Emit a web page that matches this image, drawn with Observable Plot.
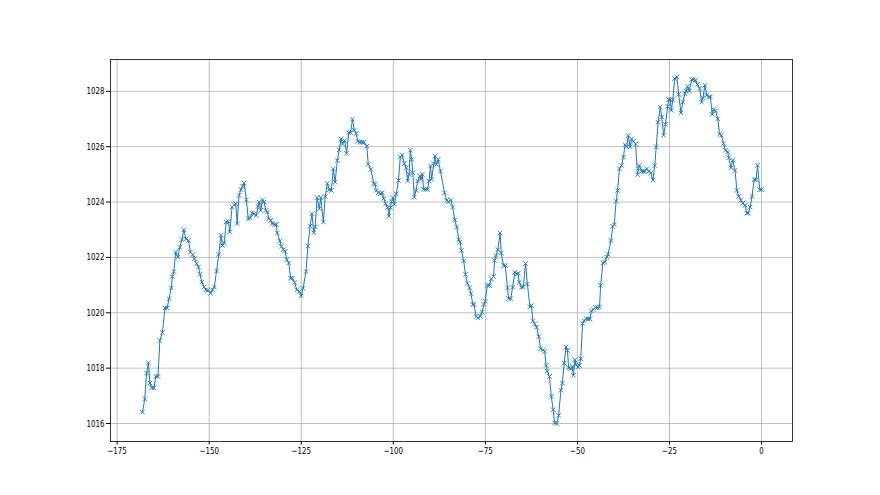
<!DOCTYPE html>
<html>
<head>
<meta charset="utf-8">
<script src="https://cdn.jsdelivr.net/npm/d3@7"></script>
<script src="https://cdn.jsdelivr.net/npm/@observablehq/plot@0.6"></script>
<style>
  html, body { margin: 0; padding: 0; background: #fff; }
  #chart svg { display: block; }
</style>
</head>
<body>
<div id="chart"></div>
<script>
const hours = [
-168.1,-167.5,-167.0,-166.5,-166.1,-165.6,-165.0,-164.5,-163.9,-163.4,-162.7,-162.0,-161.4,-160.9,-160.3,-160.0,-159.6,-159.1,-158.5,-158.0,
-157.4,-156.9,-156.3,-155.6,-155.1,-154.5,-154.0,-153.4,-152.9,-152.5,-152.0,-151.4,-150.9,-150.4,-149.6,-149.1,-148.6,
-148.0,-147.4,-146.8,-146.4,-145.9,-145.4,-144.8,-144.4,-143.8,-143.2,-142.8,-142.4,-141.9,-141.4,-140.9,-140.5,-139.9,-139.4,-138.9,-138.3,
-137.8,-137.2,-136.7,-136.4,-136.0,-135.5,-135.1,-134.6,-134.2,-133.8,-133.3,-132.9,-132.2,-131.8,-131.5,-130.8,-130.4,-129.8,-129.4,-128.9,-128.4,
-127.9,-127.4,-126.8,-126.2,-125.5,-125.0,-124.5,-123.7,-123.2,-122.6,-122.1,-121.6,-121.2,-120.7,-120.1,-119.7,-119.0,-118.5,-117.9,-117.4,
-116.8,-116.3,-115.8,-115.2,-114.7,-114.2,-113.8,-113.2,-112.7,-112.1,-111.6,-111.1,-110.6,-110.1,-109.6,-109.1,-108.5,-108.0,-107.2,
-106.8,-106.1,-105.3,-105.0,-104.6,-104.1,-103.5,-103.0,-102.6,-102.1,-101.5,-101.2,-100.8,-100.5,-100.1,-99.7,-99.2,-98.6,-98.1,-97.6,
-97.0,-96.5,-96.1,-95.7,-95.4,-95.0,-94.7,-94.3,-93.8,-93.4,-92.8,-92.5,-92.1,-91.8,-91.2,-90.7,-90.3,-89.9,-89.6,-89.0,-88.7,-88.3,-87.8,-87.2,
-86.1,-85.5,-85.0,-84.4,-83.9,-83.3,-82.8,-82.2,-81.9,-81.5,-80.9,-80.4,-79.9,-79.3,-78.9,-78.4,-78.1,-77.5,-77.0,-76.4,-75.9,-75.4,-75.0,
-74.5,-73.9,-73.4,-72.8,-72.5,-72.1,-71.6,-71.0,-70.7,-70.1,-69.6,-69.0,-68.7,-68.1,-67.6,-67.0,-66.5,-66.1,-65.8,-65.2,-64.7,-64.1,-63.6,
-62.9,-62.5,-62.1,-61.6,-61.1,-60.5,-60.0,-59.4,-58.9,-58.5,-58.2,-57.6,-57.1,-56.6,-56.2,-55.6,-55.1,-54.5,-54.1,-53.6,-53.1,-52.7,-52.4,
-51.8,-51.4,-51.1,-50.7,-50.4,-49.8,-49.5,-49.1,-48.6,-48.2,-47.6,-47.1,-46.6,-46.2,-45.7,-45.1,-44.6,-44.0,-43.7,-43.1,-42.6,-42.0,-41.7,
-40.9,-40.4,-40.0,-39.5,-39.1,-38.6,-38.0,-37.5,-37.1,-36.6,-36.2,-35.7,-35.3,-34.8,-34.2,-33.7,-33.2,-32.6,-32.1,-31.7,-31.2,-30.6,-30.1,
-29.5,-29.0,-28.6,-28.1,-27.5,-27.1,-26.6,-26.1,-25.5,-25.2,-24.8,-24.5,-24.1,-23.6,-23.0,-22.5,-21.9,-21.4,-20.8,-20.5,-20.1,-19.6,-19.0,
-18.5,-17.9,-17.4,-16.8,-16.3,-15.9,-15.4,-14.9,-14.3,-13.9,-13.4,-13.0,-12.5,-11.9,-11.4,-10.9,-10.3,-9.8,-9.2,-8.9,-8.3,-7.8,-7.2,
-6.7,-6.2,-5.6,-5.1,-4.5,-4.0,-3.6,-3.1,-2.6,-2.0,-1.5,-1.1,-0.5,0.0
];
const pressure = [
1016.41,1016.89,1017.82,1018.19,1017.46,1017.29,1017.29,1017.70,1017.70,1019.00,1019.29,1020.18,1020.18,1020.51,1020.90,1021.31,1021.49,1022.19,1022.01,1022.37,
1022.64,1023.00,1022.67,1022.61,1022.19,1022.10,1021.95,1021.77,1021.65,1021.39,1021.11,1020.93,1020.83,1020.81,1020.71,1020.83,1020.93,
1021.51,1022.11,1022.80,1022.43,1022.52,1023.28,1023.30,1022.92,1023.82,1023.90,1023.94,1023.22,1024.24,1024.45,1024.57,1024.69,1024.08,1023.40,1023.43,1023.60,
1023.58,1023.52,1023.84,1024.00,1023.70,1024.08,1024.00,1023.70,1023.64,1023.40,1023.34,1023.22,1023.19,1023.19,1022.88,1022.59,1022.40,1022.28,1022.22,1021.92,1021.80,
1021.25,1021.25,1021.09,1020.83,1020.77,1020.61,1020.89,1021.49,1022.41,1023.13,1023.58,1022.89,1023.10,1024.16,1023.76,1024.16,1023.28,1024.20,1024.68,1024.44,
1024.42,1025.20,1024.72,1025.50,1025.88,1026.28,1026.10,1026.22,1025.76,1026.51,1026.51,1026.99,1026.60,1026.48,1026.19,1026.16,1026.16,1026.16,1026.02,
1025.36,1025.18,1024.67,1024.64,1024.42,1024.34,1024.30,1024.34,1024.13,1023.94,1023.80,1023.49,1023.80,1024.01,1024.16,1023.92,1024.30,1024.78,1025.63,1025.70,
1025.39,1025.24,1024.76,1025.00,1025.87,1025.54,1025.06,1024.18,1024.42,1024.76,1024.94,1024.82,1025.00,1024.46,1024.46,1024.46,1024.76,1025.30,1024.82,1025.39,1025.66,1025.36,1025.54,1025.12,
1024.33,1024.06,1024.00,1024.08,1023.82,1023.36,1023.10,1022.64,1022.55,1022.25,1021.87,1021.39,1021.07,1020.90,1020.69,1020.30,1020.30,1019.87,1019.82,1019.87,1020.02,1020.30,1020.42,
1020.99,1020.99,1021.23,1021.31,1021.89,1022.07,1022.28,1022.88,1022.16,1021.71,1021.71,1020.90,1020.51,1020.51,1020.93,1021.46,1021.40,1021.42,1021.10,1020.92,1020.94,1021.78,1021.04,
1020.22,1020.26,1019.70,1019.60,1019.48,1019.14,1018.70,1018.66,1018.61,1018.10,1017.89,1017.70,1016.98,1016.50,1016.02,1016.00,1016.30,1017.20,1017.46,1018.18,1018.76,1018.64,1018.01,
1017.98,1018.06,1017.74,1018.30,1018.13,1018.04,1018.10,1018.34,1019.62,1019.72,1019.78,1019.78,1019.78,1020.07,1020.12,1020.19,1020.19,1020.21,1020.99,1021.80,1021.83,1022.01,1022.11,
1022.61,1023.12,1023.19,1024.03,1024.42,1025.20,1025.32,1025.62,1026.07,1026.00,1026.40,1026.00,1026.28,1026.19,1026.10,1024.99,1025.32,1025.11,1025.11,1025.11,1025.20,1025.11,1025.04,
1024.80,1025.32,1026.00,1026.88,1027.43,1027.07,1026.41,1026.81,1027.46,1027.70,1027.70,1027.31,1027.70,1028.46,1028.52,1027.89,1027.22,1027.61,1027.92,1028.01,1028.18,1028.01,1028.42,
1028.42,1028.40,1028.25,1028.10,1027.61,1027.77,1028.22,1027.86,1027.80,1027.80,1027.17,1027.34,1027.29,1027.01,1026.45,1026.41,1026.11,1025.87,1025.81,1025.60,1025.24,1025.51,1025.14,
1024.42,1024.20,1024.06,1023.96,1023.88,1023.60,1023.60,1023.82,1024.20,1024.81,1024.81,1025.33,1024.45,1024.45
];
const xTicks = [-175, -150, -125, -100, -75, -50, -25, 0];
const yTicks = [1016, 1018, 1020, 1022, 1024, 1026, 1028];

const data = hours.map((h, i) => ({h, p: pressure[i]}));

const chart = Plot.plot({
  width: 880,
  height: 495,
  marginLeft: 110,
  marginRight: 88,
  marginTop: 59,
  marginBottom: 54,
  style: {fontFamily: "DejaVu Sans, sans-serif", fontSize: "9.5px", background: "#fff", color: "#000"},
  x: {domain: [-176.8, 8.4]},
  y: {domain: [1015.35, 1029.15]},
  marks: [
    Plot.gridX(xTicks, {stroke: "#b0b0b0", strokeOpacity: 1, strokeWidth: 0.8}),
    Plot.gridY(yTicks, {stroke: "#b0b0b0", strokeOpacity: 1, strokeWidth: 0.8}),
    Plot.line(data, {x: "h", y: "p", stroke: "#1f77b4", strokeWidth: 1}),
    Plot.dot(data, {x: "h", y: "p", symbol: "times", r: 2.2, stroke: "#1f77b4", strokeWidth: 0.9}),
    Plot.axisX(xTicks, {tickSize: 3.5, tickPadding: 2.5, label: null, fontSize: 9.5, className: "ax"}),
    Plot.axisY(yTicks, {tickSize: 4, tickPadding: 2, label: null, fontSize: 9.5, tickFormat: d => String(d), className: "ax"}),
    Plot.frame({stroke: "#000", strokeWidth: 0.8})
  ]
});
document.getElementById("chart").appendChild(chart);
// matplotlib reference text is horizontally narrow: compress tick labels
chart.querySelectorAll("[aria-label$='tick label'] text").forEach(t => {
  const w = t.getComputedTextLength();
  t.setAttribute("textLength", (w * 0.74).toFixed(2));
  t.setAttribute("lengthAdjust", "spacingAndGlyphs");
});
</script>
</body>
</html>
